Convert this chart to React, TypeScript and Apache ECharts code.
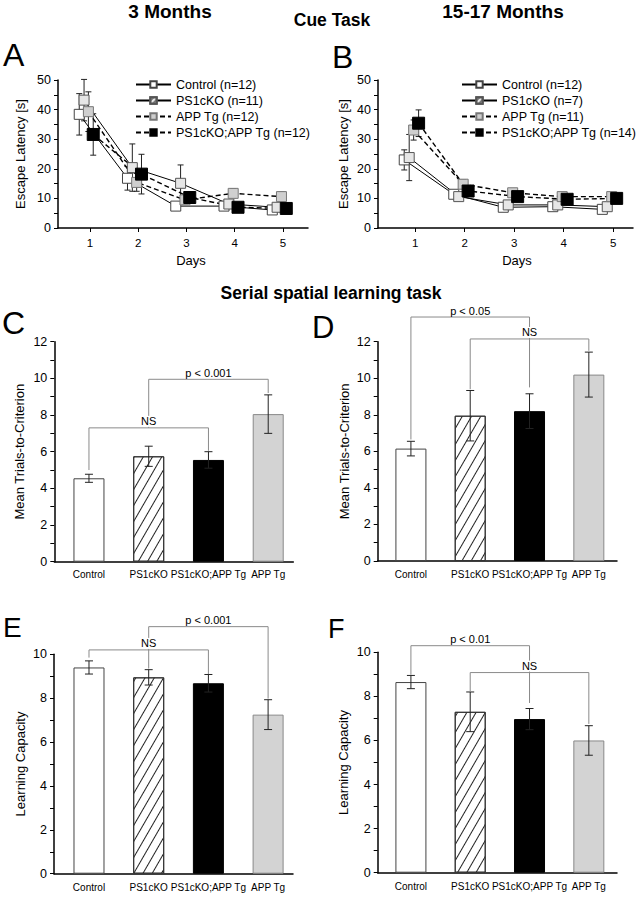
import React, { useEffect, useRef } from 'react';
import * as echarts from 'echarts';

const FONT = '"Liberation Sans", Arial, Helvetica, sans-serif';

// ---------- Cue task (A: 3 months, B: 15-17 months) ----------
const days = [1, 2, 3, 4, 5];
const groupNames = ['Control', 'PS1cKO', 'APP Tg', 'PS1cKO;APP Tg'];
const nYoung = [12, 11, 12, 12];
const nOld = [12, 7, 11, 14];

const youngControl = [38.4, 16.8, 7.4, 7.4, 6.1];
const youngControlErr = [7.0, 4.0, 1.0, 1.0, 1.0];
const youngPS1 = [43.2, 20.4, 15.1, 8.1, 7.0];
const youngPS1Err = [7.0, 8.0, 6.2, 1.2, 1.0];
const youngAPP = [39.3, 15.4, 9.5, 11.7, 10.6];
const youngAPPErr = [6.7, 3.0, 1.5, 1.5, 1.5];
const youngDKO = [31.6, 18.2, 10.3, 7.0, 6.6];
const youngDKOErr = [7.0, 6.7, 1.5, 1.0, 1.0];

const oldControl = [23.0, 11.4, 7.0, 7.2, 6.3];
const oldControlErr = [3.4, 1.0, 0.8, 0.8, 0.8];
const oldPS1 = [23.8, 10.6, 7.8, 7.8, 7.2];
const oldPS1Err = [7.8, 1.0, 0.8, 0.8, 0.8];
const oldAPP = [33.1, 14.8, 11.9, 10.6, 10.6];
const oldAPPErr = [3.4, 1.5, 1.0, 1.0, 1.0];
const oldDKO = [35.4, 12.5, 10.6, 9.7, 10.0];
const oldDKOErr = [4.5, 1.5, 1.0, 1.0, 1.0];

// ---------- Serial spatial learning task (C-F) ----------
const barCategories = ['Control', 'PS1cKO', 'PS1cKO;APP Tg', 'APP Tg'];
const barPositions = [1, 2, 3, 4];
const trialsYoung = [4.55, 5.75, 5.55, 8.05];
const trialsYoungErr = [0.22, 0.55, 0.45, 1.05];
const trialsOld = [6.15, 7.95, 8.2, 10.2];
const trialsOldErr = [0.4, 1.38, 0.95, 1.23];
const capacityYoung = [9.4, 8.95, 8.68, 7.25];
const capacityYoungErr = [0.3, 0.35, 0.4, 0.68];
const capacityOld = [8.65, 7.3, 6.97, 6.0];
const capacityOldErr = [0.3, 0.9, 0.48, 0.67];

// significance brackets: from/to bar position, bracket height, left/right leg ends
const bracketsC = [
  { from: 1, to: 3, y: 7.3, left: 5.0, right: 6.05, label: 'NS' },
  { from: 2, to: 4, y: 9.95, left: 7.3, right: 9.2, label: 'p < 0.001' },
];
const bracketsD = [
  { from: 1, to: 3, y: 13.35, left: 6.65, right: 9.5, label: 'p < 0.05' },
  { from: 2, to: 4, y: 12.15, left: 9.4, right: 11.5, label: 'NS' },
];
const bracketsE = [
  { from: 1, to: 3, y: 10.2, left: 9.85, right: 9.1, label: 'NS' },
  { from: 2, to: 4, y: 11.26, left: 9.35, right: 7.98, label: 'p < 0.001' },
];
const bracketsF = [
  { from: 1, to: 3, y: 10.3, left: 8.98, right: 7.7, label: 'p < 0.01' },
  { from: 2, to: 4, y: 9.08, left: 8.2, right: 6.75, label: 'NS' },
];

const hatchBar = {
  color: '#222',
  dashArrayX: [1, 0],
  dashArrayY: [1, 7],
  rotation: -Math.PI / 3,
  symbolSize: 1,
};
const hatchMarker = {
  color: '#7a7a7a',
  dashArrayX: [1, 0],
  dashArrayY: [1.2, 1.4],
  rotation: -Math.PI / 4,
  symbolSize: 1,
};

const lineLook = [
  { offset: -0.22, type: 'solid', width: 1, size: 10, fill: '#ffffff', border: '#444', decal: null },
  { offset: -0.12, type: 'solid', width: 1, size: 10, fill: '#e6e6e6', border: '#555', decal: hatchMarker },
  { offset: -0.03, type: [5, 3], width: 1.4, size: 10, fill: '#cfcfcf', border: '#777', decal: null },
  { offset: 0.07, type: [5, 3], width: 1.4, size: 12, fill: '#000000', border: '#000', decal: null },
];

const barLook = [
  { color: '#ffffff', borderColor: '#444', borderWidth: 1 },
  { color: '#ffffff', borderColor: '#333', borderWidth: 1, decal: hatchBar },
  { color: '#000000', borderColor: '#000', borderWidth: 1 },
  { color: '#d3d3d3', borderColor: '#888', borderWidth: 1 },
];

function errorRender(capHalf: number, color: string) {
  return (params: any, api: any) => {
    const x = api.value(0);
    const y = api.value(1);
    const e = api.value(2);
    const t = api.coord([x, y + e]);
    const b = api.coord([x, y - e]);
    const st = { stroke: color, lineWidth: 1 };
    return {
      type: 'group',
      children: [
        { type: 'line', shape: { x1: t[0], y1: t[1], x2: b[0], y2: b[1] }, style: st },
        { type: 'line', shape: { x1: t[0] - capHalf, y1: t[1], x2: t[0] + capHalf, y2: t[1] }, style: st },
        { type: 'line', shape: { x1: b[0] - capHalf, y1: b[1], x2: b[0] + capHalf, y2: b[1] }, style: st },
      ],
    };
  };
}

function cueSeries(idx: number, sets: number[][][], ns: number[]) {
  const out: any[] = [];
  sets.forEach(([vals, errs], g) => {
    const lk = lineLook[g];
    out.push({
      type: 'custom',
      xAxisIndex: idx,
      yAxisIndex: idx,
      z: 1,
      silent: true,
      data: days.map((d, i) => [d + lk.offset, vals[i], errs[i]]),
      renderItem: errorRender(3, '#222'),
    });
  });
  sets.forEach(([vals], g) => {
    const lk = lineLook[g];
    const itemStyle: any = { color: lk.fill, borderColor: lk.border, borderWidth: 1, opacity: 1 };
    if (lk.decal) itemStyle.decal = lk.decal;
    out.push({
      name: `${groupNames[g]} (n=${ns[g]})`,
      type: 'line',
      xAxisIndex: idx,
      yAxisIndex: idx,
      z: 3,
      silent: true,
      symbol: 'rect',
      symbolSize: lk.size,
      showSymbol: true,
      data: days.map((d, i) => [d + lk.offset, vals[i]]),
      itemStyle,
      lineStyle: { color: '#000', width: lk.width, type: lk.type },
      emphasis: { disabled: true },
    });
  });
  return out;
}

function barSeries(idx: number, vals: number[], errs: number[], brackets: any[]) {
  return [
    {
      type: 'bar',
      xAxisIndex: idx,
      yAxisIndex: idx,
      barWidth: 31,
      z: 2,
      silent: true,
      data: vals.map((v, i) => ({ value: [barPositions[i], v], itemStyle: barLook[i] })),
    },
    {
      type: 'custom',
      xAxisIndex: idx,
      yAxisIndex: idx,
      z: 3,
      silent: true,
      data: vals.map((v, i) => [barPositions[i], v, errs[i]]),
      renderItem: errorRender(4, '#222'),
    },
    {
      type: 'custom',
      xAxisIndex: idx,
      yAxisIndex: idx,
      z: 4,
      silent: true,
      data: brackets.map((b) => [b.from, b.to, b.y, b.left, b.right]),
      renderItem: (params: any, api: any) => {
        const a = api.coord([api.value(0), api.value(2)]);
        const c = api.coord([api.value(1), api.value(2)]);
        const l = api.coord([api.value(0), api.value(3)]);
        const r = api.coord([api.value(1), api.value(4)]);
        return {
          type: 'polyline',
          shape: { points: [[l[0], l[1]], [a[0], a[1]], [c[0], c[1]], [r[0], r[1]]] },
          style: { stroke: '#8a8a8a', lineWidth: 1, fill: null },
        };
      },
    },
    {
      type: 'custom',
      xAxisIndex: idx,
      yAxisIndex: idx,
      z: 5,
      silent: true,
      data: brackets.map((b) => [(b.from + b.to) / 2, b.y]),
      renderItem: (params: any, api: any) => {
        const p = api.coord([api.value(0), api.value(1)]);
        return {
          type: 'text',
          x: p[0],
          y: p[1] - 1,
          style: {
            text: brackets[params.dataIndex].label,
            align: 'center',
            verticalAlign: 'bottom',
            fontFamily: FONT,
            fontSize: 11,
            fill: '#000',
            backgroundColor: '#fff',
            padding: [0, 1, 0, 1],
          },
        };
      },
    },
  ];
}

const axisLineStyle = { show: true, onZero: false, lineStyle: { color: '#000', width: 1.5 } };

function yAxis(idx: number, max: number, interval: number, name: string, nameGap: number) {
  return {
    type: 'value',
    gridIndex: idx,
    min: 0,
    max,
    interval,
    name,
    nameLocation: 'middle',
    nameGap,
    nameTextStyle: { fontFamily: FONT, fontSize: 13, color: '#000' },
    axisLine: axisLineStyle,
    axisTick: { show: true, length: 4, lineStyle: { color: '#000', width: 1 } },
    minorTick: { show: true, splitNumber: 2, length: 4, lineStyle: { color: '#000', width: 1 } },
    axisLabel: { fontFamily: FONT, fontSize: 12.5, color: '#000', margin: 7 },
    splitLine: { show: false },
    minorSplitLine: { show: false },
  };
}

function dayAxis(idx: number, min: number, max: number, shift: number) {
  return {
    type: 'value',
    gridIndex: idx,
    min,
    max,
    name: 'Days',
    nameLocation: 'middle',
    nameGap: 26,
    nameTextStyle: { fontFamily: FONT, fontSize: 13, color: '#000', padding: [0, 0, 0, shift] },
    axisLine: axisLineStyle,
    axisTick: { show: true, length: 4, customValues: days, lineStyle: { color: '#000', width: 1 } },
    axisLabel: { customValues: days, fontFamily: FONT, fontSize: 11.5, color: '#000', margin: 9 },
    splitLine: { show: false },
  };
}

function catAxis(idx: number, min: number, max: number, margin: number) {
  return {
    type: 'value',
    gridIndex: idx,
    min,
    max,
    axisLine: axisLineStyle,
    axisTick: { show: false },
    axisLabel: {
      customValues: barPositions,
      formatter: (v: number) => barCategories[Math.round(v) - 1] ?? '',
      fontFamily: FONT,
      fontSize: 10,
      color: '#000',
      margin,
    },
    splitLine: { show: false },
  };
}

const headings = [
  { text: '3 Months', x: 170, y: 11, size: 19 },
  { text: 'Cue Task', x: 332, y: 20, size: 17.5 },
  { text: '15-17 Months', x: 503, y: 11, size: 19 },
  { text: 'Serial spatial learning task', x: 331, y: 293, size: 17.5 },
];
const letters = [
  { text: 'A', x: 3, y: 55, size: 32 },
  { text: 'B', x: 332, y: 57, size: 32 },
  { text: 'C', x: 2, y: 323, size: 32 },
  { text: 'D', x: 312, y: 327, size: 31 },
  { text: 'E', x: 3, y: 627, size: 28 },
  { text: 'F', x: 328, y: 629, size: 27 },
];

export default function App() {
  const ref = useRef<HTMLDivElement>(null);
  useEffect(() => {
    if (!ref.current) return;
    const chart = echarts.init(ref.current, undefined, { renderer: 'svg' });
    const namesYoung = groupNames.map((g, i) => `${g} (n=${nYoung[i]})`);
    const namesOld = groupNames.map((g, i) => `${g} (n=${nOld[i]})`);
    const legendBase = {
      orient: 'vertical',
      itemWidth: 35,
      itemHeight: 8,
      itemGap: 3,
      selectedMode: false,
      textStyle: { fontFamily: FONT, fontSize: 12.5, color: '#000' },
    };
    const option: any = {
      animation: false,
      backgroundColor: '#fff',
      grid: [
        { left: 58, top: 80, width: 250, height: 148 },
        { left: 378, top: 80, width: 255, height: 148 },
        { left: 54.3, top: 341.7, width: 239, height: 220 },
        { left: 377.7, top: 341.7, width: 239.3, height: 219.3 },
        { left: 54, top: 654.3, width: 239, height: 219.4 },
        { left: 377.7, top: 652.3, width: 239.3, height: 220.4 },
      ],
      xAxis: [
        dayAxis(0, 0.34, 5.52, 16),
        dayAxis(1, 0.25, 5.4, 23),
        catAxis(2, 0.42, 4.42, 8),
        catAxis(3, 0.44, 4.475, 8),
        catAxis(4, 0.414, 4.417, 9),
        catAxis(5, 0.44, 4.475, 9),
      ],
      yAxis: [
        yAxis(0, 50, 10, 'Escape Latency [s]', 31),
        yAxis(1, 50, 10, 'Escape Latency [s]', 28),
        yAxis(2, 12, 2, 'Mean Trials-to-Criterion', 28.5),
        yAxis(3, 12, 2, 'Mean Trials-to-Criterion', 27),
        yAxis(4, 10, 2, 'Learning Capacity', 27.5),
        yAxis(5, 10, 2, 'Learning Capacity', 27.5),
      ],
      legend: [
        { ...legendBase, left: 130, top: 73, data: namesYoung },
        { ...legendBase, left: 456, top: 73, data: namesOld },
      ],
      graphic: [
        ...headings.map((h) => ({
          type: 'text',
          x: h.x,
          y: h.y,
          silent: true,
          style: {
            text: h.text,
            align: 'center',
            verticalAlign: 'middle',
            fontFamily: FONT,
            fontWeight: 'bold',
            fontSize: h.size,
            fill: '#000',
          },
        })),
        ...letters.map((l) => ({
          type: 'text',
          x: l.x,
          y: l.y,
          silent: true,
          style: {
            text: l.text,
            align: 'left',
            verticalAlign: 'middle',
            fontFamily: FONT,
            fontSize: l.size,
            fill: '#000',
          },
        })),
      ],
      series: [
        ...cueSeries(
          0,
          [
            [youngControl, youngControlErr],
            [youngPS1, youngPS1Err],
            [youngAPP, youngAPPErr],
            [youngDKO, youngDKOErr],
          ],
          nYoung
        ),
        ...cueSeries(
          1,
          [
            [oldControl, oldControlErr],
            [oldPS1, oldPS1Err],
            [oldAPP, oldAPPErr],
            [oldDKO, oldDKOErr],
          ],
          nOld
        ),
        ...barSeries(2, trialsYoung, trialsYoungErr, bracketsC),
        ...barSeries(3, trialsOld, trialsOldErr, bracketsD),
        ...barSeries(4, capacityYoung, capacityYoungErr, bracketsE),
        ...barSeries(5, capacityOld, capacityOldErr, bracketsF),
      ],
    };
    chart.setOption(option);
    return () => chart.dispose();
  }, []);
  return (
    <div
      ref={ref}
      style={{ position: 'fixed', left: 0, top: 0, width: 639, height: 900, background: '#fff' }}
    />
  );
}
